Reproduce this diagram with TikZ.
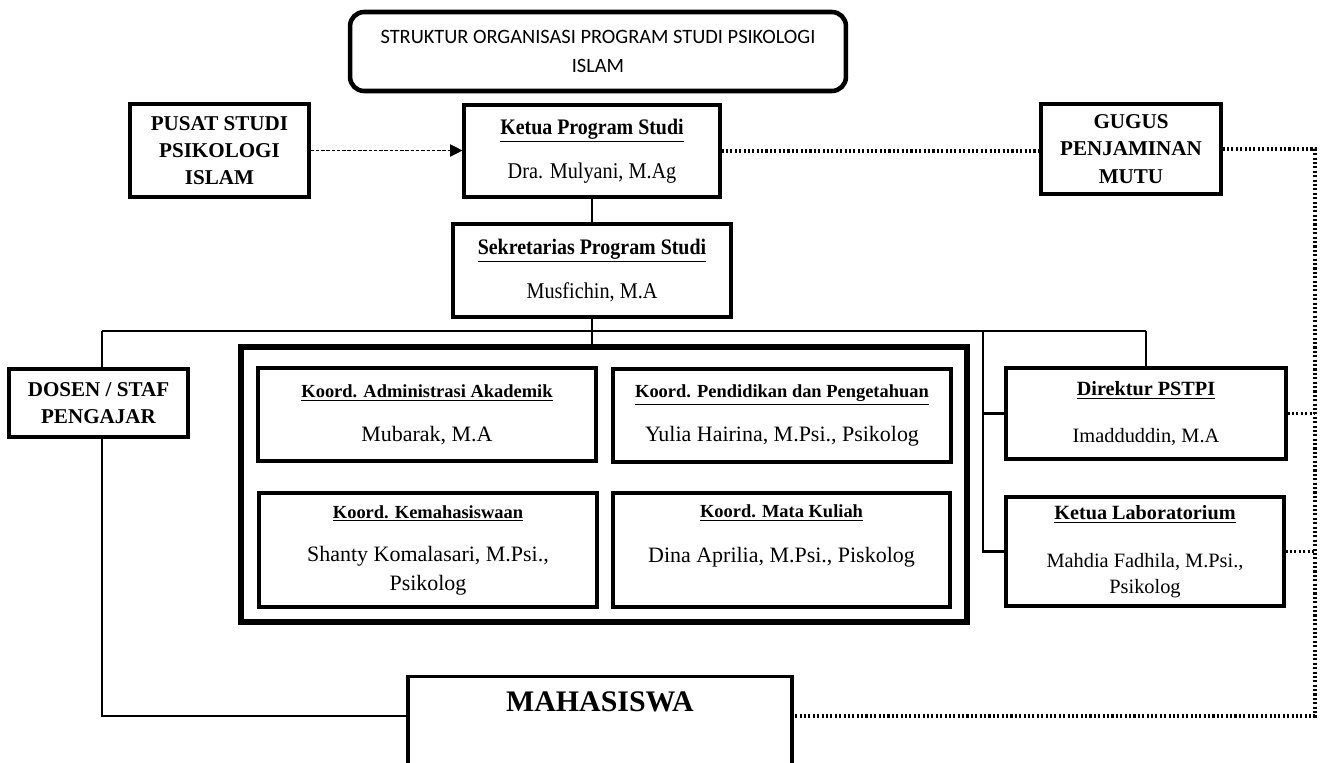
\documentclass[tikz,border=0pt]{standalone}
\usepackage{fontspec}
\setmainfont{Liberation Serif}
\newfontfamily\calibrifont{Carlito}
\newfontfamily\sempit{Liberation Serif}[FakeStretch=0.9]
\usetikzlibrary{positioning,arrows.meta}

\newcommand{\jabatan}[1]{\underline{\textbf{\fontsize{10.5}{12}\selectfont #1}}}
\newcommand{\jabatanatas}[1]{\underline{\textbf{\fontsize{11.5}{13}\selectfont #1}}}
\newcommand{\jabatanpusat}[1]{\underline{\textbf{\sempit\fontsize{12.6}{14}\selectfont #1}}}

\begin{document}
\begin{tikzpicture}[x=0.02cm, y=-0.02cm,
        judul/.style={rectangle, rounded corners=8pt, draw=black, line width=2.6pt, fill=white, minimum width=9.92cm, minimum height=1.58cm, align=center, font=\calibrifont\fontsize{11.6}{16.4}\selectfont},
        unit/.style={rectangle, draw=black, line width=1.8pt, fill=white, align=center, font=\fontsize{12.5}{16}\selectfont},
        unitatas/.style={unit, font=\fontsize{11.6}{14.5}\selectfont},
        unitpusat/.style={unit, font=\sempit\fontsize{12.8}{16}\selectfont},
        badan/.style={rectangle, draw=black, line width=1.8pt, fill=white, align=center, font=\bfseries\fontsize{12}{15.5}\selectfont},
        kelompok/.style={rectangle, draw=black, line width=3pt, minimum width=14.52cm, minimum height=5.5cm},
        garis/.style={line width=1.4pt},
        titik/.style={line width=2pt, dash pattern=on 1.2pt off 1.3pt},
        panah/.style={line width=0.5pt, dash pattern=on 2pt off 1pt, -{Triangle[length=7pt,width=7pt]}},
    ]
    \useasboundingbox (0,0) rectangle (1322,762);
    \clip (0,0) rectangle (1322,762);
    \fill[white] (0,0) rectangle (1322,762);

    \node[judul] (judul) at (598,51.5) {STRUKTUR ORGANISASI PROGRAM STUDI PSIKOLOGI\\ISLAM};
    \node[badan, minimum width=3.58cm, minimum height=1.86cm] (pusat) at (219.5,150.5) {PUSAT STUDI\\PSIKOLOGI\\ISLAM};
    \node[unitpusat, minimum width=5.12cm, minimum height=1.84cm] (ketua) at (592,151) {\jabatanpusat{Ketua Program Studi}\\[9pt]Dra. Mulyani, M.Ag};
    \node[badan, minimum width=3.6cm, minimum height=1.8cm] (gugus) at (1131,149) {GUGUS\\PENJAMINAN\\MUTU};
    \node[unitpusat, minimum width=5.56cm, minimum height=1.86cm] (sekretaris) at (592,270.5) {\jabatanpusat{Sekretarias Program Studi}\\[9pt]Musfichin, M.A};
    \node[badan, minimum width=3.58cm, minimum height=1.36cm] (dosen) at (98.5,403) {DOSEN / STAF\\PENGAJAR};

    \node[kelompok] (koord) at (604,484.5) {};
    \node[unit, minimum width=6.76cm, minimum height=1.86cm] (akademik) at (427,414.5) {\jabatan{Koord. Administrasi Akademik}\\[9pt]Mubarak, M.A};
    \node[unit, minimum width=6.76cm, minimum height=1.86cm] (pendidikan) at (782,415.5) {\jabatan{Koord. Pendidikan dan Pengetahuan}\\[9pt]Yulia Hairina, M.Psi., Psikolog};
    \node[unit, minimum width=6.76cm, minimum height=2.28cm] (kemahasiswaan) at (428,550) {\jabatan{Koord. Kemahasiswaan}\\[9pt]Shanty Komalasari, M.Psi.,\\Psikolog};
    \node[unit, minimum width=6.74cm, minimum height=2.28cm] (matakuliah) at (781.5,550) {\jabatan{Koord. Mata Kuliah}\\[10pt]Dina Aprilia, M.Psi., Piskolog\\\phantom{Psikolog}};

    \node[unitatas, minimum width=5.6cm, minimum height=1.82cm] (direktur) at (1146,413.5) {\jabatanatas{Direktur PSTPI}\\[12pt]Imadduddin, M.A};
    \node[unitatas, minimum width=5.56cm, minimum height=2.18cm] (lab) at (1145,551.5) {\jabatanatas{Ketua Laboratorium}\\[13pt]Mahdia Fadhila, M.Psi.,\\Psikolog};

    \node[unit, anchor=north, minimum width=7.68cm, minimum height=3cm] (mhs) at (600,675) {};
    \node[font=\bfseries\fontsize{17}{20}\selectfont] (mhsteks) at (600,702) {MAHASISWA};

    \coordinate (busL) at (102,331);
    \coordinate (busM) at (983,331);
    \coordinate (busR) at (1146,331);
    \coordinate (railT) at (1315,148);
    \coordinate (railB) at (1315,716);

    \draw[garis] (ketua) -- (sekretaris);
    \draw[garis] (sekretaris.south) -- (sekretaris.south |- koord.north);
    \draw[garis] (busL) -- (busR);
    \draw[garis] (busL) -- (busL |- dosen.north);
    \draw[garis] (busL |- dosen.south) -- (busL |- railB) -- (railB -| mhs.west);
    \draw[garis] (busR) -- (busR |- direktur.north);
    \draw[garis] (busM) -- (busM |- lab.west) -- (lab.west);
    \draw[garis] (busM |- direktur.west) -- (direktur.west);

    \draw[panah] (pusat.east) -- (pusat.east -| ketua.west);
    \draw[titik] (ketua.east) -- (ketua.east -| gugus.west);
    \draw[titik] (gugus.east) -- (gugus.east -| railT) -- (railB) -- (railB -| mhs.east);
    \draw[titik] (direktur.east) -- (direktur.east -| railT);
    \draw[titik] (lab.east) -- (lab.east -| railT);
\end{tikzpicture}
\end{document}
